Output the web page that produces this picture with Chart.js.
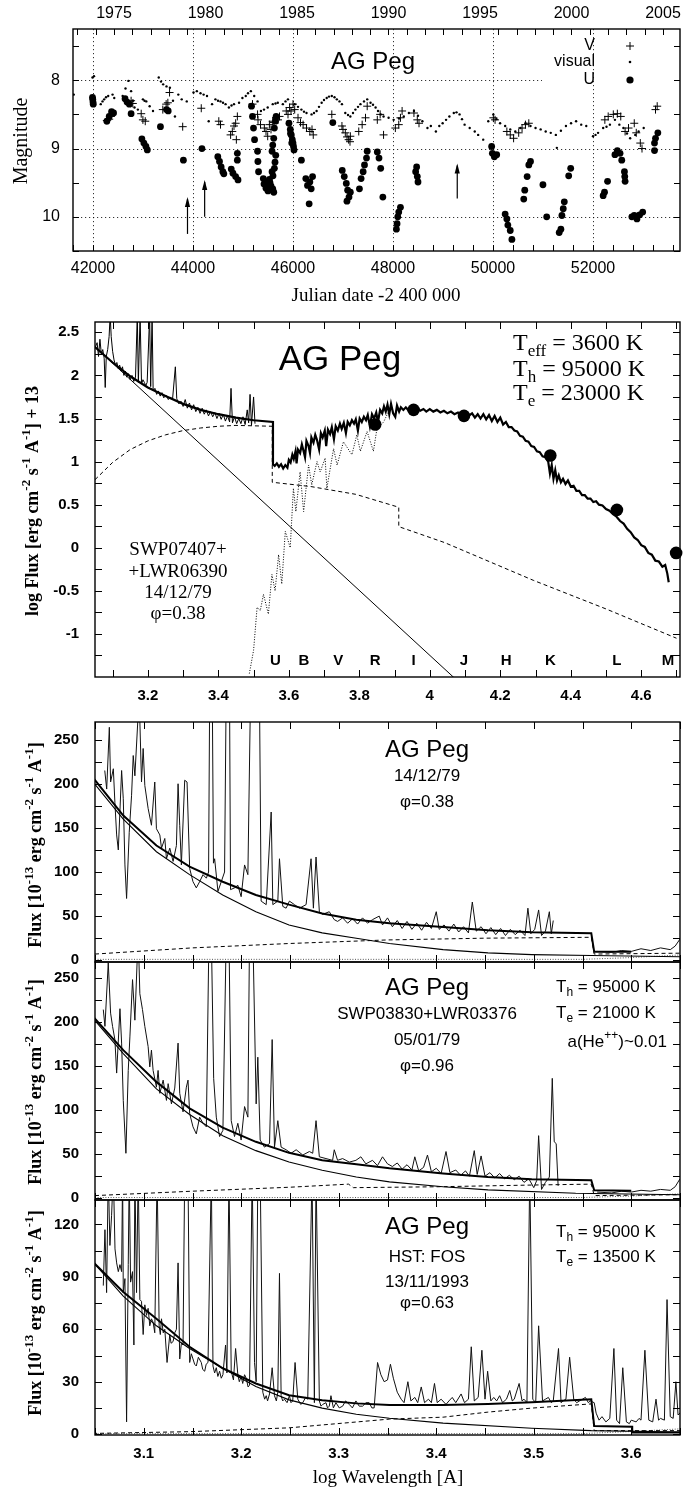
<!DOCTYPE html>
<html>
<head>
<meta charset="utf-8">
<script src="https://cdn.jsdelivr.net/npm/chart.js@4.4.1/dist/chart.umd.min.js"></script>
<style>
  body { margin: 0; background: #fff; width: 689px; height: 1489px; position: relative; overflow: hidden; }
  canvas { position: absolute; left: 0; }
</style>
</head>
<body>
<canvas id="c1"></canvas>
<canvas id="c2"></canvas>
<canvas id="c3"></canvas>
<canvas id="c4"></canvas>
<canvas id="c5"></canvas>
<script>
// ---------- panel 1 : light curve (JD - 2400000, magnitude) ----------
const p1V = [[42277,8.59],[42324,8.57],[42357,8.53],[42762,8.30],[42796,8.34],[42964,8.49],[42998,8.58],[43045,8.60],
  [43396,8.43],[43463,8.35],[43497,8.33],[43531,8.18],[43794,8.68],[44165,8.41],[44516,8.60],[44550,8.65],[44752,8.80],
  [44786,8.75],[44820,8.67],[44853,8.63],[44867,8.87],[44887,8.53],[45190,8.35],[45291,8.50],[45300,8.58],[45350,8.65],
  [45427,8.70],[45460,8.75],[45494,8.82],[45528,8.65],[45560,8.72],[45595,8.60],[45620,8.62],[45662,8.55],[45700,8.58],
  [45730,8.53],[45865,8.45],[45900,8.50],[45932,8.40],[45960,8.45],[46000,8.35],[46034,8.43],[46100,8.55],[46150,8.62],
  [46202,8.65],[46270,8.70],[46337,8.75],[46380,8.72],[46405,8.80],[46776,8.50],[46979,8.67],[47000,8.72],[47046,8.77],
  [47080,8.83],[47113,8.87],[47140,8.90],[47147,8.82],[47315,8.75],[47383,8.65],[47450,8.55],[47484,8.38],[47686,8.58],
  [47743,8.50],[47811,8.80],[48047,8.70],[48115,8.65],[48149,8.55],[48182,8.45],[48419,8.48],[48486,8.58],[48520,8.63],
  [50007,8.55],[50041,8.58],[50277,8.75],[50345,8.80],[50412,8.85],[50514,8.77],[50581,8.70],[50649,8.65],[50716,8.63],
  [52237,8.58],[52304,8.53],[52406,8.50],[52487,8.49],[52555,8.53],[52642,8.75],[52710,8.70],[52825,8.63],[52865,8.77],
  [52946,8.92],[52980,9.00],[53250,8.43],[53284,8.38]];
const p1Visual = [[41616,8.21],[41990,7.96],[42020,7.94],[42155,8.35],[42190,8.31],[42223,8.28],[42260,8.25],[42304,8.23],
  [42391,8.21],[42425,8.26],[42593,8.23],[42650,8.12],[42708,8.01],[42762,8.16],[42800,8.30],[42830,8.40],[42897,8.43],
  [42998,8.28],[43030,8.30],[43066,8.31],[43133,8.38],[43200,8.45],[43315,7.96],[43360,8.02],[43403,8.06],[43470,8.09],
  [43538,8.11],[43600,8.30],[43639,8.53],[43706,8.21],[43774,8.28],[43875,8.31],[44010,8.18],[44077,8.16],[44150,8.19],
  [44212,8.21],[44280,8.23],[44314,8.60],[44381,8.35],[44448,8.28],[44500,8.30],[44550,8.31],[44600,8.33],[44651,8.35],
  [44718,8.40],[44770,8.37],[44820,8.35],[44921,8.33],[44988,8.26],[45055,8.23],[45100,8.19],[45157,8.16],[45224,8.23],
  [45291,8.31],[45359,8.45],[45420,8.43],[45494,8.40],[45595,8.35],[45650,8.34],[45696,8.33],[45797,8.35],[45850,8.31],
  [45899,8.28],[46034,8.35],[46100,8.39],[46168,8.43],[46220,8.46],[46270,8.48],[46371,8.50],[46420,8.48],[46472,8.45],
  [46520,8.39],[46573,8.33],[46620,8.29],[46674,8.26],[46720,8.24],[46776,8.23],[46830,8.25],[46877,8.28],[46930,8.31],
  [46979,8.35],[47046,8.48],[47100,8.51],[47147,8.53],[47200,8.48],[47248,8.43],[47300,8.39],[47349,8.35],[47420,8.31],
  [47484,8.28],[47551,8.33],[47600,8.36],[47652,8.40],[47700,8.45],[47754,8.50],[47811,8.53],[47912,8.55],[48013,8.58],
  [48120,8.56],[48216,8.53],[48318,8.48],[48419,8.45],[48500,8.52],[48588,8.60],[48689,8.70],[48757,8.67],[48858,8.75],
  [48926,8.67],[48993,8.63],[49061,8.58],[49128,8.53],[49216,8.48],[49270,8.47],[49331,8.50],[49380,8.57],[49432,8.65],
  [49534,8.70],[49635,8.75],[49703,8.80],[49804,8.87],[49905,8.60],[50007,8.50],[50070,8.57],[50142,8.63],[50243,8.67],
  [50345,8.72],[50446,8.75],[50547,8.70],[50649,8.63],[50750,8.67],[50851,8.70],[50953,8.72],[51054,8.75],[51155,8.77],
  [51257,8.80],[51277,8.99],[51358,8.74],[51459,8.67],[51561,8.63],[51662,8.60],[51764,8.65],[51865,8.67],[52000,8.82],
  [52050,8.80],[52101,8.77],[52203,8.70],[52270,8.68],[52338,8.65],[52439,8.58],[52527,8.65],[52608,8.70],[52680,8.78],
  [52743,8.85],[52845,8.80],[52912,8.75],[53014,8.70]];
const p1U = [[41990,8.25],[41995,8.28],[42000,8.32],[42005,8.35],[42277,8.60],[42324,8.53],[42371,8.46],[42411,8.48],
  [42641,8.27],[42681,8.32],[42728,8.35],[42762,8.49],[42978,8.86],[43018,8.92],[43059,8.97],[43086,9.02],[43349,8.68],
  [43470,8.43],[43504,8.45],[43808,9.17],[44179,9.00],[44496,9.12],[44530,9.19],[44563,9.27],[44597,9.34],[44617,9.37],
  [44765,9.30],[44799,9.36],[44853,9.41],[44887,9.17],[44887,9.07],[44900,9.46],[45170,8.38],[45190,8.53],[45210,8.70],
  [45231,8.87],[45291,9.04],[45298,9.19],[45311,9.34],[45406,9.44],[45420,9.52],[45447,9.49],[45460,9.58],[45494,9.53],
  [45500,9.62],[45528,9.45],[45540,9.50],[45561,9.55],[45570,9.60],[45595,9.59],[45600,9.40],[45615,9.64],[45581,9.34],
  [45628,9.29],[45640,9.20],[45655,9.10],[45581,9.04],[45595,8.95],[45615,8.85],[45628,8.70],[45649,8.60],[45662,8.53],
  [45919,8.63],[45946,8.72],[45950,8.78],[45966,8.80],[45975,8.92],[45986,8.87],[46000,8.92],[46010,8.97],[46020,9.02],
  [46168,9.17],[46256,9.44],[46290,9.54],[46337,9.49],[46364,9.59],[46323,9.81],[46391,9.41],[46796,8.62],[46985,9.32],
  [47025,9.41],[47066,9.51],[47093,9.61],[47120,9.71],[47147,9.64],[47079,9.77],[47329,9.59],[47362,9.44],[47403,9.34],
  [47430,9.24],[47470,9.14],[47484,9.04],[47686,9.05],[47720,9.14],[47754,9.29],[47797,9.71],[48068,10.18],[48081,10.10],
  [48095,10.00],[48115,9.93],[48149,9.86],[48453,9.34],[48473,9.27],[48486,9.41],[48500,9.49],[49973,8.97],[49987,9.07],
  [50027,9.12],[50074,9.09],[50243,9.96],[50277,10.03],[50297,10.12],[50345,10.20],[50378,10.33],[50615,9.74],[50635,9.61],
  [50683,9.41],[50716,9.24],[50750,9.19],[50999,9.53],[51074,10.00],[51324,10.23],[51358,10.18],[51378,9.98],[51405,9.88],
  [51426,9.78],[51514,9.40],[51554,9.29],[52203,9.69],[52230,9.64],[52291,9.48],[52439,9.09],[52487,9.03],[52541,9.07],
  [52575,9.17],[52629,9.34],[52635,9.41],[52642,9.48],[52777,10.00],[52825,9.98],[52879,10.03],[52933,9.97],[52994,9.93],
  [53230,8.92],[53250,8.85],[53297,8.77],[53230,9.03]];
// arrows: JD, magnitude at tail, magnitude at head
const p1Arrows = [[43890,10.25,9.71],[44233,10.0,9.46],[49285,9.73,9.22]];
const p1JdTicks = [42000,44000,46000,48000,50000,52000];
const p1YearTicks = [1975,1980,1985,1990,1995,2000,2005];
const p1MagTicks = [8,9,10];

// ---------- panel 2 : SED, log lambda vs log flux + 13 ----------
const p2Iue = [[3.050,2.32],[3.056,2.38],[3.060,2.22],[3.064,2.42],[3.068,2.25],[3.072,2.30],[3.076,2.20],[3.079,1.86],
  [3.082,2.22],[3.086,2.30],[3.090,2.45],[3.093,2.70],[3.096,2.45],[3.100,2.28],[3.104,2.18],[3.108,2.12],[3.112,2.15],
  [3.116,2.08],[3.120,2.12],[3.124,2.05],[3.128,2.10],[3.132,2.00],[3.136,2.05],[3.140,1.98],[3.145,2.02],[3.150,1.95],
  [3.155,2.00],[3.160,1.93],[3.165,1.98],[3.170,2.70],[3.173,1.92],[3.178,2.70],[3.182,1.90],[3.186,1.95],[3.190,1.92],
  [3.194,1.88],[3.198,1.92],[3.205,2.70],[3.208,1.87],[3.212,2.70],[3.215,1.82],[3.220,1.85],[3.225,1.78],[3.230,1.82],
  [3.235,1.76],[3.240,1.80],[3.245,1.74],[3.252,1.77],[3.258,1.72],[3.264,1.75],[3.270,1.72],[3.278,2.10],[3.282,1.73],
  [3.288,1.67],[3.294,1.70],[3.300,1.64],[3.306,1.72],[3.312,1.62],[3.318,1.68],[3.324,1.60],[3.330,1.66],[3.336,1.58],
  [3.342,1.63],[3.348,1.56],[3.354,1.62],[3.360,1.55],[3.366,1.60],[3.372,1.53],[3.378,1.58],[3.384,1.52],[3.390,1.57],
  [3.396,1.50],[3.402,1.56],[3.408,1.49],[3.414,1.55],[3.420,1.47],[3.426,1.53],[3.432,1.46],[3.436,1.85],[3.440,1.45],
  [3.446,1.52],[3.452,1.44],[3.458,1.50],[3.464,1.44],[3.470,1.52],[3.476,1.43],[3.482,1.60],[3.486,1.45],[3.490,1.78],
  [3.494,1.42],[3.500,1.75],[3.504,1.44]];
const p2Total = [[3.05,2.33],[3.10,2.15],[3.15,1.99],[3.20,1.86],[3.25,1.76],[3.30,1.67],[3.35,1.60],[3.40,1.55],
  [3.45,1.51],[3.50,1.48],[3.555,1.46],[3.555,0.97],[3.560,0.95],[3.566,0.98],[3.572,0.94],[3.578,0.97],[3.584,0.92],
  [3.590,0.96],[3.596,0.93],[3.600,1.02],[3.605,0.99],[3.610,1.08],[3.614,1.03],[3.619,1.12],[3.622,0.98],[3.626,1.14],
  [3.632,1.10],[3.637,1.20],[3.642,1.12],[3.646,1.05],[3.650,1.24],[3.656,1.18],[3.660,1.10],[3.664,1.28],[3.670,1.22],
  [3.675,1.31],[3.680,1.25],[3.686,1.14],[3.691,1.33],[3.696,1.28],[3.702,1.36],[3.706,1.18],[3.711,1.37],[3.717,1.32],
  [3.722,1.40],[3.728,1.26],[3.733,1.41],[3.739,1.36],[3.745,1.44],[3.750,1.38],[3.756,1.45],[3.762,1.33],[3.767,1.46],
  [3.773,1.42],[3.779,1.48],[3.785,1.44],[3.790,1.49],[3.796,1.36],[3.801,1.50],[3.807,1.46],[3.813,1.52],[3.819,1.48],
  [3.824,1.54],[3.830,1.41],[3.836,1.55],[3.842,1.50],[3.848,1.57],[3.853,1.46],[3.859,1.60],[3.865,1.56],[3.870,1.64],
  [3.875,1.58],[3.880,1.66],[3.885,1.55],[3.890,1.67],[3.896,1.56],[3.902,1.52],[3.907,1.65],[3.913,1.58],[3.918,1.63],
  [3.925,1.60],[3.932,1.63],[3.940,1.59],[3.948,1.62],[3.956,1.60],[3.965,1.62],[3.973,1.59],[3.982,1.61],[3.990,1.58],
  [4.000,1.61],[4.010,1.58],[4.020,1.60],[4.030,1.57],[4.040,1.59],[4.050,1.56],[4.060,1.58],[4.070,1.55],[4.080,1.57],
  [4.090,1.54],[4.100,1.56],[4.110,1.53],[4.120,1.56],[4.128,1.51],[4.136,1.55],[4.144,1.50],[4.152,1.55],[4.160,1.49],
  [4.168,1.54],[4.176,1.47],[4.184,1.53],[4.192,1.46],[4.200,1.51],[4.208,1.43],[4.216,1.46],[4.224,1.40],[4.232,1.40],
  [4.240,1.36],[4.248,1.35],[4.256,1.30],[4.264,1.29],[4.272,1.24],[4.280,1.23],[4.288,1.18],[4.296,1.17],[4.304,1.12],
  [4.312,1.11],[4.320,1.06],[4.328,1.05],[4.336,1.00],[4.341,0.86],[4.346,0.96],[4.351,0.80],[4.356,0.90],[4.361,0.78],
  [4.366,0.84],[4.372,0.76],[4.378,0.80],[4.385,0.74],[4.392,0.78],[4.400,0.71],[4.408,0.72],[4.416,0.66],[4.424,0.66],
  [4.432,0.61],[4.440,0.61],[4.448,0.57],[4.456,0.57],[4.464,0.53],[4.472,0.54],[4.480,0.50],[4.490,0.49],[4.500,0.45],
  [4.510,0.43],[4.520,0.39],[4.530,0.36],[4.540,0.31],[4.550,0.28],[4.560,0.22],[4.570,0.18],[4.580,0.12],[4.590,0.09],
  [4.600,0.03],[4.610,0.01],[4.620,-0.06],[4.630,-0.08],[4.640,-0.15],[4.650,-0.16],[4.660,-0.22],[4.668,-0.20],
  [4.674,-0.30],[4.678,-0.40]];
const p2Giant = [[3.488,-1.46],[3.500,-1.19],[3.510,-0.69],[3.519,-0.73],[3.528,-0.54],[3.542,-0.77],[3.552,-0.31],
  [3.561,-0.50],[3.571,-0.08],[3.580,-0.42],[3.590,0.19],[3.604,0.00],[3.613,0.69],[3.620,0.42],[3.632,0.88],[3.642,0.42],
  [3.656,0.96],[3.665,0.73],[3.680,1.00],[3.689,0.88],[3.703,1.04],[3.708,0.69],[3.727,1.15],[3.737,0.96],[3.755,1.23],
  [3.779,1.08],[3.793,1.31],[3.803,1.12],[3.822,1.35],[3.840,1.12],[3.850,1.38],[3.869,1.46],[3.883,1.58]];
const p2Nebula = [[3.05,0.79],[3.10,0.99],[3.15,1.14],[3.20,1.24],[3.25,1.31],[3.30,1.36],[3.35,1.39],[3.40,1.41],
  [3.45,1.42],[3.553,1.41],[3.553,0.76],[3.663,0.71],[3.79,0.62],[3.912,0.47],[3.912,0.245],[4.042,0.06],[4.295,-0.38],
  [4.50,-0.71],[4.70,-1.05]];
const p2Hot = [[3.05,2.33],[4.08,-1.55]];
const p2Phot = [[3.845,1.43],[3.954,1.60],[4.097,1.53],[4.342,1.07],[4.531,0.44],[4.699,-0.06]];
const p2Bands = ['U','B','V','R','I','J','H','K','L','M'];
const p2BandLogLam = [3.562,3.643,3.740,3.845,3.954,4.097,4.217,4.342,4.531,4.676];
const p2XTicks = [3.2,3.4,3.6,3.8,4.0,4.2,4.4,4.6];
const p2YTicks = [-1,-0.5,0,0.5,1,1.5,2,2.5];

// ---------- panel 3 : 14/12/79 ----------
const p3Obs = [[3.060,215],[3.062,194],[3.0647,264],[3.066,202],[3.0688,217],[3.0704,179],[3.0722,142],[3.0739,125],
  [3.0773,215],[3.079,183],[3.0807,108],[3.0824,70],[3.0851,145],[3.0875,187],[3.0892,232],[3.0909,209],[3.0953,300],
  [3.0977,202],[3.0994,240],[3.1011,198],[3.1045,172],[3.1079,153],[3.1113,202],[3.113,149],[3.1165,142],[3.1182,127],
  [3.1216,138],[3.1233,115],[3.1267,127],[3.1301,112],[3.1335,130],[3.1352,200],[3.1369,153],[3.1386,108],[3.142,204],
  [3.1444,202],[3.1471,104],[3.1505,89],[3.1539,82],[3.1573,89],[3.1608,97],[3.1642,93],[3.1665,100],[3.1676,300],
  [3.1703,300],[3.1715,110],[3.1727,115],[3.1761,78],[3.1795,89],[3.1829,100],[3.1845,300],[3.188,300],[3.189,80],
  [3.1931,82],[3.1965,85],[3.1999,72],[3.2034,108],[3.2068,97],[3.2095,300],[3.2136,300],[3.2187,300],[3.2204,67],
  [3.2256,63],[3.2307,168],[3.2324,63],[3.2375,67],[3.2392,115],[3.2426,61],[3.246,59],[3.2494,67],[3.2546,63],
  [3.2597,59],[3.2665,63],[3.2716,115],[3.274,59],[3.2767,117],[3.2801,55],[3.2835,52],[3.2903,55],[3.2954,46],
  [3.2988,44],[3.304,48],[3.3091,42],[3.3142,47],[3.3193,41],[3.3244,48],[3.3295,42],[3.3346,46],[3.3415,50],
  [3.3449,40],[3.35,48],[3.355,38],[3.36,45],[3.365,36],[3.37,44],[3.375,35],[3.38,42],[3.385,34],[3.39,43],[3.395,36],
  [3.40,55],[3.403,35],[3.408,40],[3.413,33],[3.418,41],[3.423,32],[3.428,38],[3.433,31],[3.437,66],[3.441,33],
  [3.446,38],[3.451,30],[3.456,37],[3.461,29],[3.466,36],[3.471,28],[3.476,35],[3.481,29],[3.486,34],[3.491,28],
  [3.494,59],[3.497,30],[3.501,35],[3.505,57],[3.508,28],[3.512,33],[3.516,55],[3.518,30],[3.52,45],[3.53,null],
  [3.565,10],[3.58,9],[3.59,11],[3.60,10],[3.61,13],[3.62,11],[3.63,14],[3.64,12],[3.645,16],[3.65,24]];
const p3Total = [[3.048,207],[3.079,164],[3.113,130],[3.147,106],[3.181,89],[3.215,74],[3.249,63],[3.283,53],[3.318,46],
  [3.352,42],[3.407,37.8],[3.453,34],[3.498,31.8],[3.559,30.7],[3.562,9.5],[3.60,9.5]];
const p3Hot = [[3.048,202],[3.079,160],[3.113,123],[3.147,97],[3.181,74],[3.215,55],[3.249,40],[3.283,31],[3.318,25],
  [3.352,19],[3.407,12],[3.453,8.3],[3.498,6.4],[3.559,5.3],[3.65,4]];
const p3Nebula = [[3.05,7],[3.15,14],[3.25,19],[3.35,23],[3.45,25],[3.559,26],[3.562,7],[3.65,8]];
const p3Giant = [[3.05,1],[3.55,1],[3.60,3],[3.65,6]];
const p3YTicks = [0,50,100,150,200,250];

// ---------- panel 4 : 05/01/79 ----------
const p4Obs = [[3.0585,214],[3.0602,195],[3.0636,267],[3.066,210],[3.068,195],[3.0704,180],[3.0722,142],[3.0756,215],
  [3.0773,176],[3.079,111],[3.0817,51],[3.0841,145],[3.0858,183],[3.0885,248],[3.0909,202],[3.0943,300],[3.096,232],
  [3.0987,214],[3.1011,195],[3.1045,172],[3.1062,149],[3.1079,168],[3.1096,145],[3.113,126],[3.1147,145],[3.1165,119],
  [3.1199,134],[3.1233,111],[3.125,130],[3.1284,107],[3.1318,125],[3.1352,176],[3.1369,119],[3.1403,98],[3.1437,126],
  [3.1454,134],[3.1471,96],[3.1505,81],[3.1539,73],[3.1573,92],[3.1608,85],[3.1642,81],[3.1669,300],[3.1693,300],
  [3.1717,136],[3.1744,92],[3.1778,70],[3.1812,77],[3.1846,300],[3.1874,300],[3.1897,88],[3.1931,70],[3.1965,85],
  [3.1999,66],[3.2034,104],[3.2068,92],[3.2085,300],[3.2119,300],[3.2153,107],[3.217,160],[3.2194,66],[3.2238,58],
  [3.229,62],[3.2317,180],[3.2341,58],[3.2375,88],[3.2409,58],[3.246,55],[3.2511,51],[3.2563,55],[3.2631,49],
  [3.2699,53],[3.2733,51],[3.2767,88],[3.2801,47],[3.2869,45],[3.2937,43],[3.2954,55],[3.2988,43],[3.304,45],
  [3.3108,41],[3.3176,43],[3.3227,47],[3.3278,39],[3.3346,43],[3.3397,37],[3.3449,47],[3.35,39],[3.355,36],[3.36,40],
  [3.365,33],[3.37,38],[3.375,32],[3.378,47],[3.382,31],[3.387,35],[3.391,49],[3.395,30],[3.40,34],[3.405,28],[3.41,53],
  [3.414,29],[3.42,32],[3.425,26],[3.43,31],[3.434,25],[3.439,54],[3.442,27],[3.446,48],[3.45,25],[3.455,29],[3.46,23],
  [3.465,28],[3.47,22],[3.475,26],[3.48,21],[3.485,25],[3.49,18],[3.495,22],[3.50,12],[3.503,20],[3.505,71],[3.508,10],
  [3.512,18],[3.516,24],[3.519,136],[3.521,64],[3.523,62],[3.525,14],[3.535,null],[3.565,7],[3.58,6],[3.59,8],[3.60,7],
  [3.61,9],[3.62,8],[3.63,10],[3.64,9],[3.645,13],[3.65,22]];
const p4Total = [[3.048,206],[3.079,168],[3.113,132],[3.147,102],[3.181,80],[3.215,64],[3.249,51.5],[3.283,43],
  [3.318,38.6],[3.352,34],[3.407,28],[3.453,24],[3.498,21.6],[3.559,20.4],[3.562,9],[3.60,8.5]];
const p4Hot = [[3.048,204],[3.079,164],[3.113,124],[3.147,95],[3.181,71],[3.215,54],[3.249,41],[3.283,31.8],[3.318,24],
  [3.352,18.6],[3.407,13],[3.453,9.5],[3.543,5.7],[3.65,4]];
const p4Nebula = [[3.05,3],[3.15,8],[3.25,12.5],[3.31,16],[3.315,12],[3.40,13],[3.50,15],[3.559,16],[3.562,3],[3.65,4]];
const p4Giant = [[3.05,0.8],[3.55,0.8],[3.60,2.5],[3.65,5]];

// ---------- panel 5 : HST FOS 13/11/1993 ----------
const p5Obs = [[3.0585,85],[3.0602,117],[3.0619,81],[3.0636,150],[3.0653,108],[3.067,125],[3.0688,150],[3.0705,106],
  [3.0722,98],[3.0739,93],[3.0756,97],[3.0773,93],[3.0783,150],[3.079,81],[3.0807,89],[3.0824,7],[3.0841,97],
  [3.0851,150],[3.0865,87],[3.0885,93],[3.0899,51],[3.0909,150],[3.0926,81],[3.0943,150],[3.096,77],[3.0977,76],
  [3.0994,57],[3.1011,74],[3.1028,68],[3.1045,72],[3.1062,62],[3.1079,66],[3.1096,64],[3.1113,58],[3.1137,150],
  [3.1158,62],[3.117,57],[3.1182,66],[3.12,58],[3.1216,60],[3.1239,41],[3.1267,57],[3.128,52],[3.1301,53],[3.1318,58],
  [3.1335,60],[3.1352,98],[3.1369,43],[3.1386,52],[3.1403,51],[3.142,150],[3.1437,150],[3.1454,150],[3.1471,41],
  [3.1488,46],[3.1505,43],[3.1522,40],[3.1539,39],[3.156,44],[3.159,41],[3.1605,37],[3.1625,36],[3.164,40],[3.1659,41],
  [3.1693,150],[3.171,39],[3.1727,35],[3.1744,38],[3.176,33],[3.1778,36],[3.1795,32],[3.1812,34],[3.1839,51],[3.1853,35],
  [3.1874,150],[3.1897,36],[3.192,31],[3.1942,49],[3.1965,34],[3.198,30],[3.1999,33],[3.2015,29],[3.2034,34],[3.2051,32],
  [3.207,27],[3.2085,28],[3.2112,150],[3.2136,41],[3.2153,30],[3.217,150],[3.2194,150],[3.2221,24],[3.224,20],
  [3.2256,22],[3.227,19],[3.229,23],[3.2317,38],[3.2341,22],[3.236,19],[3.2375,24],[3.2392,92],[3.2409,22],[3.2425,19],
  [3.2443,20],[3.247,18],[3.2494,22],[3.251,18],[3.2528,19],[3.2552,41],[3.258,20],[3.261,17],[3.2631,18],[3.266,21],
  [3.2682,20],[3.2726,150],[3.275,18],[3.2767,150],[3.2801,19],[3.2818,16],[3.2835,17],[3.2869,18],[3.2885,15],
  [3.2903,16],[3.292,22],[3.2945,15],[3.2971,18],[3.3005,15],[3.304,16],[3.307,19],[3.3108,17],[3.314,15],[3.3176,19],
  [3.321,16],[3.3244,16],[3.328,18],[3.3312,18],[3.334,15],[3.3363,15],[3.3398,41],[3.3432,34],[3.3466,30],[3.35,31],
  [3.353,40],[3.356,32],[3.36,24],[3.364,20],[3.367,18],[3.3709,30],[3.374,19],[3.378,21],[3.381,18],[3.3846,27],
  [3.388,18],[3.392,20],[3.395,18],[3.3982,29],[3.401,18],[3.405,20],[3.41,17],[3.413,19],[3.4164,21],[3.42,18],
  [3.4255,23],[3.429,18],[3.433,20],[3.4359,50],[3.439,19],[3.443,21],[3.4468,48],[3.45,20],[3.4527,36],[3.456,19],
  [3.459,21],[3.462,19],[3.465,22],[3.468,18],[3.472,20],[3.4754,25],[3.478,19],[3.48,20],[3.485,29],[3.488,19],
  [3.49,20],[3.493,18],[3.4959,150],[3.499,20],[3.502,18],[3.505,62],[3.509,19],[3.512,20],[3.515,21],[3.518,18],
  [3.52,19],[3.5254,49],[3.528,18],[3.53,19],[3.533,20],[3.5368,44],[3.541,20],[3.544,18],[3.547,19],[3.55,20],[3.553,21],
  [3.556,18],[3.558,19],[3.562,18],[3.564,12],[3.567,8],[3.57,10],[3.574,7],[3.578,9],[3.5822,49],[3.585,8],[3.588,6],
  [3.5913,38],[3.595,7],[3.598,6],[3.60,8],[3.605,7],[3.608,9],[3.61,8],[3.614,48],[3.618,8],[3.622,7],[3.6254,20],
  [3.628,8],[3.63,9],[3.634,8],[3.6367,77],[3.64,10],[3.643,9],[3.6458,30],[3.648,11],[3.65,12]];
const p5Total = [[3.048,98.5],[3.079,81.3],[3.113,66],[3.147,50],[3.181,37.7],[3.215,29],[3.249,22.3],[3.283,19.4],
  [3.318,17.6],[3.352,16.6],[3.407,16.6],[3.453,17.3],[3.498,18.3],[3.559,20],[3.562,4.6],[3.601,4.2],[3.601,1],[3.65,1]];
const p5Hot = [[3.048,98.5],[3.079,79],[3.113,62],[3.147,49],[3.181,37.7],[3.215,27.2],[3.249,19.6],[3.283,14.9],
  [3.318,11.4],[3.352,9.1],[3.407,6.3],[3.498,3.4],[3.559,2],[3.65,1.2]];
const p5Nebula = [[3.048,0.4],[3.147,1.4],[3.249,3.6],[3.352,8.6],[3.407,9.7],[3.453,12.6],[3.498,14.9],[3.559,17.3],
  [3.562,2],[3.65,2]];
const p5Giant = [[3.05,0.3],[3.55,0.3],[3.60,1.5],[3.65,3]];
const p5YTicks = [0,30,60,90,120];
const pLamTicks = [3.1,3.2,3.3,3.4,3.5,3.6];

// ---------------------------------------------------------------
const SANS = '"Liberation Sans", Arial, sans-serif';
const SERIF = '"Liberation Serif", "Times New Roman", serif';
const xy = a => a.map(p => ({ x: p[0], y: p[1] }));
const range = (a, b, s) => { const r = []; for (let v = a; v <= b + 1e-9; v += s) r.push(+v.toFixed(4)); return r; };

function drawRich(ctx, parts, x, y, size, fam, weight, align) {
  const small = Math.round(size * 0.7);
  const f = s => (weight || 'normal') + ' ' + s + 'px ' + fam;
  let w = 0;
  parts.forEach(p => { ctx.font = f(p.s ? small : size); p.w = ctx.measureText(p.t).width; w += p.w; });
  let cx = align === 'center' ? x - w / 2 : align === 'right' ? x - w : x;
  ctx.textAlign = 'left';
  ctx.textBaseline = 'middle';
  parts.forEach(p => {
    ctx.font = f(p.s ? small : size);
    const dy = p.s === 'sup' ? -size * 0.38 : p.s === 'sub' ? size * 0.33 : 0;
    ctx.fillText(p.t, cx, y + dy);
    cx += p.w;
  });
}

// gnuplot-like frame: dotted grid, border, inward ticks, texts, arrows, legend
const gp = {
  id: 'gp',
  beforeDatasetsDraw(chart, args, o) {
    const ctx = chart.ctx, a = chart.chartArea, sx = chart.scales.x, sy = chart.scales.y;
    ctx.save();
    ctx.strokeStyle = '#000';
    ctx.lineWidth = 0.8;
    ctx.setLineDash([1.2, 2.8]);
    (o.gridX || []).forEach(v => {
      const x = Math.round(sx.getPixelForValue(v)) + 0.5;
      ctx.beginPath(); ctx.moveTo(x, a.top); ctx.lineTo(x, a.bottom); ctx.stroke();
    });
    (o.gridY || []).forEach(g => {
      const y = Math.round(sy.getPixelForValue(g[0])) + 0.5;
      const x2 = g[1] == null ? a.right : sx.getPixelForValue(g[1]);
      ctx.beginPath(); ctx.moveTo(a.left, y); ctx.lineTo(x2, y); ctx.stroke();
    });
    ctx.restore();
  },
  afterDatasetsDraw(chart, args, o) {
    const ctx = chart.ctx, a = chart.chartArea, top = o.top;
    ctx.save();
    ctx.strokeStyle = '#000';
    ctx.lineWidth = 1;
    (o.ticks || []).forEach(t => {
      const s = chart.scales[t.scale];
      t.values.forEach(v => {
        const p = Math.round(s.getPixelForValue(v)) + 0.5;
        ctx.beginPath();
        if (s.isHorizontal()) {
          if (t.sides.includes('bottom')) { ctx.moveTo(p, a.bottom); ctx.lineTo(p, a.bottom - t.len); }
          if (t.sides.includes('top')) { ctx.moveTo(p, a.top); ctx.lineTo(p, a.top + t.len); }
        } else {
          ctx.moveTo(a.left, p); ctx.lineTo(a.left + t.len, p);
          ctx.moveTo(a.right, p); ctx.lineTo(a.right - t.len, p);
        }
        ctx.stroke();
      });
    });
    ctx.lineWidth = 1.4;
    ctx.strokeRect(a.left, a.top, a.right - a.left, a.bottom - a.top);
    // arrows
    ctx.lineWidth = 1.2;
    (o.arrows || []).forEach(ar => {
      const x = chart.scales.x.getPixelForValue(ar[0]);
      const y0 = chart.scales.y.getPixelForValue(ar[1]);
      const y1 = chart.scales.y.getPixelForValue(ar[2]);
      ctx.beginPath(); ctx.moveTo(x, y0); ctx.lineTo(x, y1 + 2); ctx.stroke();
      ctx.beginPath(); ctx.moveTo(x, y1); ctx.lineTo(x - 2.6, y1 + 10); ctx.lineTo(x + 2.6, y1 + 10); ctx.closePath();
      ctx.fillStyle = '#000'; ctx.fill();
    });
    // legend markers
    (o.marks || []).forEach(m => {
      const y = m.y - top;
      ctx.fillStyle = '#000'; ctx.strokeStyle = '#000'; ctx.lineWidth = 1;
      if (m.k === 'plus') {
        ctx.beginPath(); ctx.moveTo(m.x - 4, y); ctx.lineTo(m.x + 4, y); ctx.moveTo(m.x, y - 4); ctx.lineTo(m.x, y + 4); ctx.stroke();
      } else {
        ctx.beginPath(); ctx.arc(m.x, y, m.r, 0, Math.PI * 2); ctx.fill();
      }
    });
    // texts
    ctx.fillStyle = '#000';
    (o.texts || []).forEach(t => {
      const parts = t.parts ? t.parts.map(p => Object.assign({}, p)) : [{ t: t.t }];
      const x = t.xv != null ? chart.scales.x.getPixelForValue(t.xv) : t.x;
      const y = t.y - top;
      if (t.rot) {
        ctx.save(); ctx.translate(x, y); ctx.rotate(-Math.PI / 2);
        drawRich(ctx, parts, 0, 0, t.size, t.fam, t.w, 'center');
        ctx.restore();
      } else {
        drawRich(ctx, parts, x, y, t.size, t.fam, t.w, t.align || 'center');
      }
    });
    ctx.restore();
  }
};

function axis(pos, min, max, labels, size, pad, font, extra) {
  const horiz = pos === 'top' || pos === 'bottom';
  return Object.assign({
    type: 'linear', position: pos, min, max,
    grid: { display: false, drawTicks: false },
    border: { display: false },
    afterBuildTicks: s => { s.ticks = labels.map(v => ({ value: v })); },
    afterFit: s => {
      if (horiz) { s.height = size; s.paddingLeft = 0; s.paddingRight = 0; }
      else { s.width = size; s.paddingTop = 0; s.paddingBottom = 0; }
    },
    ticks: {
      display: labels.length > 0, color: '#000', padding: pad, font,
      maxRotation: 0, minRotation: 0, autoSkip: false,
      callback: v => String(+(+v).toFixed(2))
    }
  }, extra || {});
}

function panel(id, top, height, padTop, padBottom, scales, datasets, opts) {
  const cv = document.getElementById(id);
  cv.width = 689; cv.height = height; cv.style.top = top + 'px';
  new Chart(cv, {
    type: 'scatter',
    data: { datasets },
    options: {
      responsive: false, animation: false, events: [],
      layout: { padding: { top: padTop, right: 9, bottom: padBottom, left: 0 } },
      plugins: { legend: { display: false }, tooltip: { enabled: false }, gp: Object.assign({ top }, opts) },
      scales
    },
    plugins: [gp]
  });
}

function lineDs(data, width, color, dash, order) {
  return { data: xy(data), showLine: true, pointRadius: 0, borderWidth: width, borderColor: color,
    borderDash: dash || [], fill: false, tension: 0, clip: 0, spanGaps: false, order };
}

const tickFont = { family: SANS, size: 15, weight: 'bold' };
const fluxTitle = [{ t: 'Flux [10' }, { t: '-13', s: 'sup' }, { t: ' erg cm' }, { t: '-2', s: 'sup' }, { t: ' s' },
  { t: '-1', s: 'sup' }, { t: ' A' }, { t: '-1', s: 'sup' }, { t: ']' }];

// ---- panel 1
panel('c1', 0, 312, 0, 0, {
  x: axis('bottom', 41600, 53740, p1JdTicks, 61, 8, { family: SANS, size: 16 }),
  x2: axis('top', 1972.76, 2005.93, p1YearTicks, 29, 6, { family: SANS, size: 16 }),
  y: axis('left', 7.25, 10.5, p1MagTicks, 73, 13, { family: SANS, size: 16 }, { reverse: true })
}, [
  { data: xy(p1U), pointStyle: 'circle', pointRadius: 3.4, backgroundColor: '#000', borderWidth: 0, clip: 0, order: 1 },
  { data: xy(p1V), pointStyle: 'cross', pointRadius: 4, borderColor: '#000', borderWidth: 1, clip: 0, order: 2 },
  { data: xy(p1Visual), pointStyle: 'circle', pointRadius: 1.2, backgroundColor: '#000', borderWidth: 0, clip: 0, order: 3 }
], {
  gridX: p1JdTicks,
  gridY: [[8, 50980], [9, null], [10, null]],
  ticks: [
    { scale: 'x', values: range(41600, 53740, 400), len: 6, sides: ['bottom'] },
    { scale: 'x2', values: range(1973, 2005, 1), len: 6, sides: ['top'] },
    { scale: 'y', values: range(7.5, 10.5, 0.5), len: 6 }
  ],
  arrows: p1Arrows,
  marks: [{ k: 'plus', x: 630, y: 46 }, { k: 'dot', x: 630, y: 62, r: 1.3 }, { k: 'dot', x: 630, y: 80, r: 3.6 }],
  texts: [
    { t: 'AG Peg', x: 373, y: 62, size: 24, fam: SANS },
    { t: 'V', x: 595, y: 46, size: 16, fam: SANS, align: 'right' },
    { t: 'visual', x: 595, y: 62, size: 16, fam: SANS, align: 'right' },
    { t: 'U', x: 595, y: 80, size: 16, fam: SANS, align: 'right' },
    { t: 'Julian date -2 400 000', x: 376, y: 296, size: 19, fam: SERIF },
    { t: 'Magnitude', x: 22, y: 141, size: 20, fam: SERIF, rot: true }
  ]
});

// ---- panel 2
panel('c2', 305, 405, 17, 0, {
  x: axis('bottom', 3.05, 4.71, p2XTicks, 33, 10, tickFont),
  y: axis('left', -1.5, 2.62, p2YTicks, 95, 16, tickFont)
}, [
  { data: xy(p2Phot), pointStyle: 'circle', pointRadius: 6.3, backgroundColor: '#000', borderWidth: 0, clip: 8, order: 1 },
  lineDs(p2Total, 2.2, '#000', null, 2),
  lineDs(p2Iue, 1, '#000', null, 3),
  lineDs(p2Hot, 1, '#000', null, 4),
  lineDs(p2Nebula, 1, '#000', [4, 3], 5),
  lineDs(p2Giant, 1, '#000', [1, 1.6], 6)
], {
  ticks: [
    { scale: 'x', values: range(3.1, 4.7, 0.1), len: 7, sides: ['bottom', 'top'] },
    { scale: 'y', values: range(-1.25, 2.5, 0.25), len: 7 }
  ],
  texts: [
    { t: 'AG Peg', x: 340, y: 360, size: 35, fam: SANS },
    { parts: [{ t: 'T' }, { t: 'eff', s: 'sub' }, { t: ' = 3600 K' }], x: 513, y: 344, size: 24, fam: SERIF, align: 'left' },
    { parts: [{ t: 'T' }, { t: 'h', s: 'sub' }, { t: ' = 95000 K' }], x: 513, y: 370, size: 24, fam: SERIF, align: 'left' },
    { parts: [{ t: 'T' }, { t: 'e', s: 'sub' }, { t: ' = 23000 K' }], x: 513, y: 394, size: 24, fam: SERIF, align: 'left' },
    { t: 'SWP07407+', x: 178, y: 550, size: 19, fam: SERIF },
    { t: '+LWR06390', x: 178, y: 572, size: 19, fam: SERIF },
    { t: '14/12/79', x: 178, y: 593, size: 19, fam: SERIF },
    { t: 'φ=0.38', x: 178, y: 614, size: 19, fam: SERIF },
    { parts: [{ t: 'log Flux [erg cm' }, { t: '-2', s: 'sup' }, { t: ' s' }, { t: '-1', s: 'sup' }, { t: ' A' },
      { t: '-1', s: 'sup' }, { t: '] + 13' }], x: 33, y: 501, size: 18, fam: SERIF, w: 'bold', rot: true }
  ].concat(p2Bands.map((b, i) => ({ t: b, xv: p2BandLogLam[i], y: 661, size: 15, fam: SANS, w: 'bold' })))
});

// ---- panels 3-5 share log lambda 3.05-3.65
function specPanel(id, top, height, padTop, padBottom, yMin, yMax, yTicks, yStep, showX, obs, tot, hot, neb, giant, texts) {
  panel(id, top, height, padTop, padBottom, {
    x: axis('bottom', 3.05, 3.65, showX ? pLamTicks : [], showX ? 54 : 0, 10, tickFont),
    y: axis('left', yMin, yMax, yTicks, 95, 16, tickFont)
  }, [
    lineDs(tot, 2, '#000', null, 1),
    lineDs(hot, 1.1, '#000', null, 2),
    lineDs(obs, 1, '#111', null, 3),
    lineDs(neb, 1, '#000', [4, 3], 4),
    lineDs(giant, 1, '#555', [1, 1.6], 5)
  ], {
    ticks: [
      { scale: 'x', values: range(3.05, 3.65, 0.05), len: 7, sides: ['bottom', 'top'] },
      { scale: 'y', values: range(0, yMax, yStep), len: 7 }
    ],
    texts
  });
}

specPanel('c3', 712, 256, 10, 6, -2, 270, p3YTicks, 25, false, p3Obs, p3Total, p3Hot, p3Nebula, p3Giant, [
  { t: 'AG Peg', x: 427, y: 750, size: 24, fam: SANS },
  { t: '14/12/79', x: 427, y: 776, size: 17, fam: SANS },
  { t: 'φ=0.38', x: 427, y: 802, size: 17, fam: SANS },
  { parts: fluxTitle, x: 36, y: 845, size: 18, fam: SERIF, w: 'bold', rot: true }
]);

specPanel('c4', 952, 254, 10, 6, -2, 268, p3YTicks, 25, false, p4Obs, p4Total, p4Hot, p4Nebula, p4Giant, [
  { t: 'AG Peg', x: 427, y: 988, size: 24, fam: SANS },
  { t: 'SWP03830+LWR03376', x: 427, y: 1014, size: 17, fam: SANS },
  { t: '05/01/79', x: 427, y: 1040, size: 17, fam: SANS },
  { t: 'φ=0.96', x: 427, y: 1066, size: 17, fam: SANS },
  { parts: [{ t: 'T' }, { t: 'h', s: 'sub' }, { t: ' = 95000 K' }], x: 556, y: 987, size: 17, fam: SANS, align: 'left' },
  { parts: [{ t: 'T' }, { t: 'e', s: 'sub' }, { t: ' = 21000 K' }], x: 556, y: 1013, size: 17, fam: SANS, align: 'left' },
  { parts: [{ t: 'a(He' }, { t: '++', s: 'sup' }, { t: ')~0.01' }], x: 667, y: 1042, size: 17, fam: SANS, align: 'right' },
  { parts: fluxTitle, x: 36, y: 1082, size: 18, fam: SERIF, w: 'bold', rot: true }
]);

specPanel('c5', 1190, 299, 10, 0, -0.5, 134, p5YTicks, 15, true, p5Obs, p5Total, p5Hot, p5Nebula, p5Giant, [
  { t: 'AG Peg', x: 427, y: 1227, size: 24, fam: SANS },
  { t: 'HST: FOS', x: 427, y: 1257, size: 17, fam: SANS },
  { t: '13/11/1993', x: 427, y: 1282, size: 17, fam: SANS },
  { t: 'φ=0.63', x: 427, y: 1303, size: 17, fam: SANS },
  { parts: [{ t: 'T' }, { t: 'h', s: 'sub' }, { t: ' = 95000 K' }], x: 556, y: 1232, size: 17, fam: SANS, align: 'left' },
  { parts: [{ t: 'T' }, { t: 'e', s: 'sub' }, { t: ' = 13500 K' }], x: 556, y: 1257, size: 17, fam: SANS, align: 'left' },
  { parts: fluxTitle, x: 36, y: 1313, size: 18, fam: SERIF, w: 'bold', rot: true },
  { t: 'log Wavelength [A]', x: 388, y: 1478, size: 19, fam: SERIF }
]);
</script>
</body>
</html>
